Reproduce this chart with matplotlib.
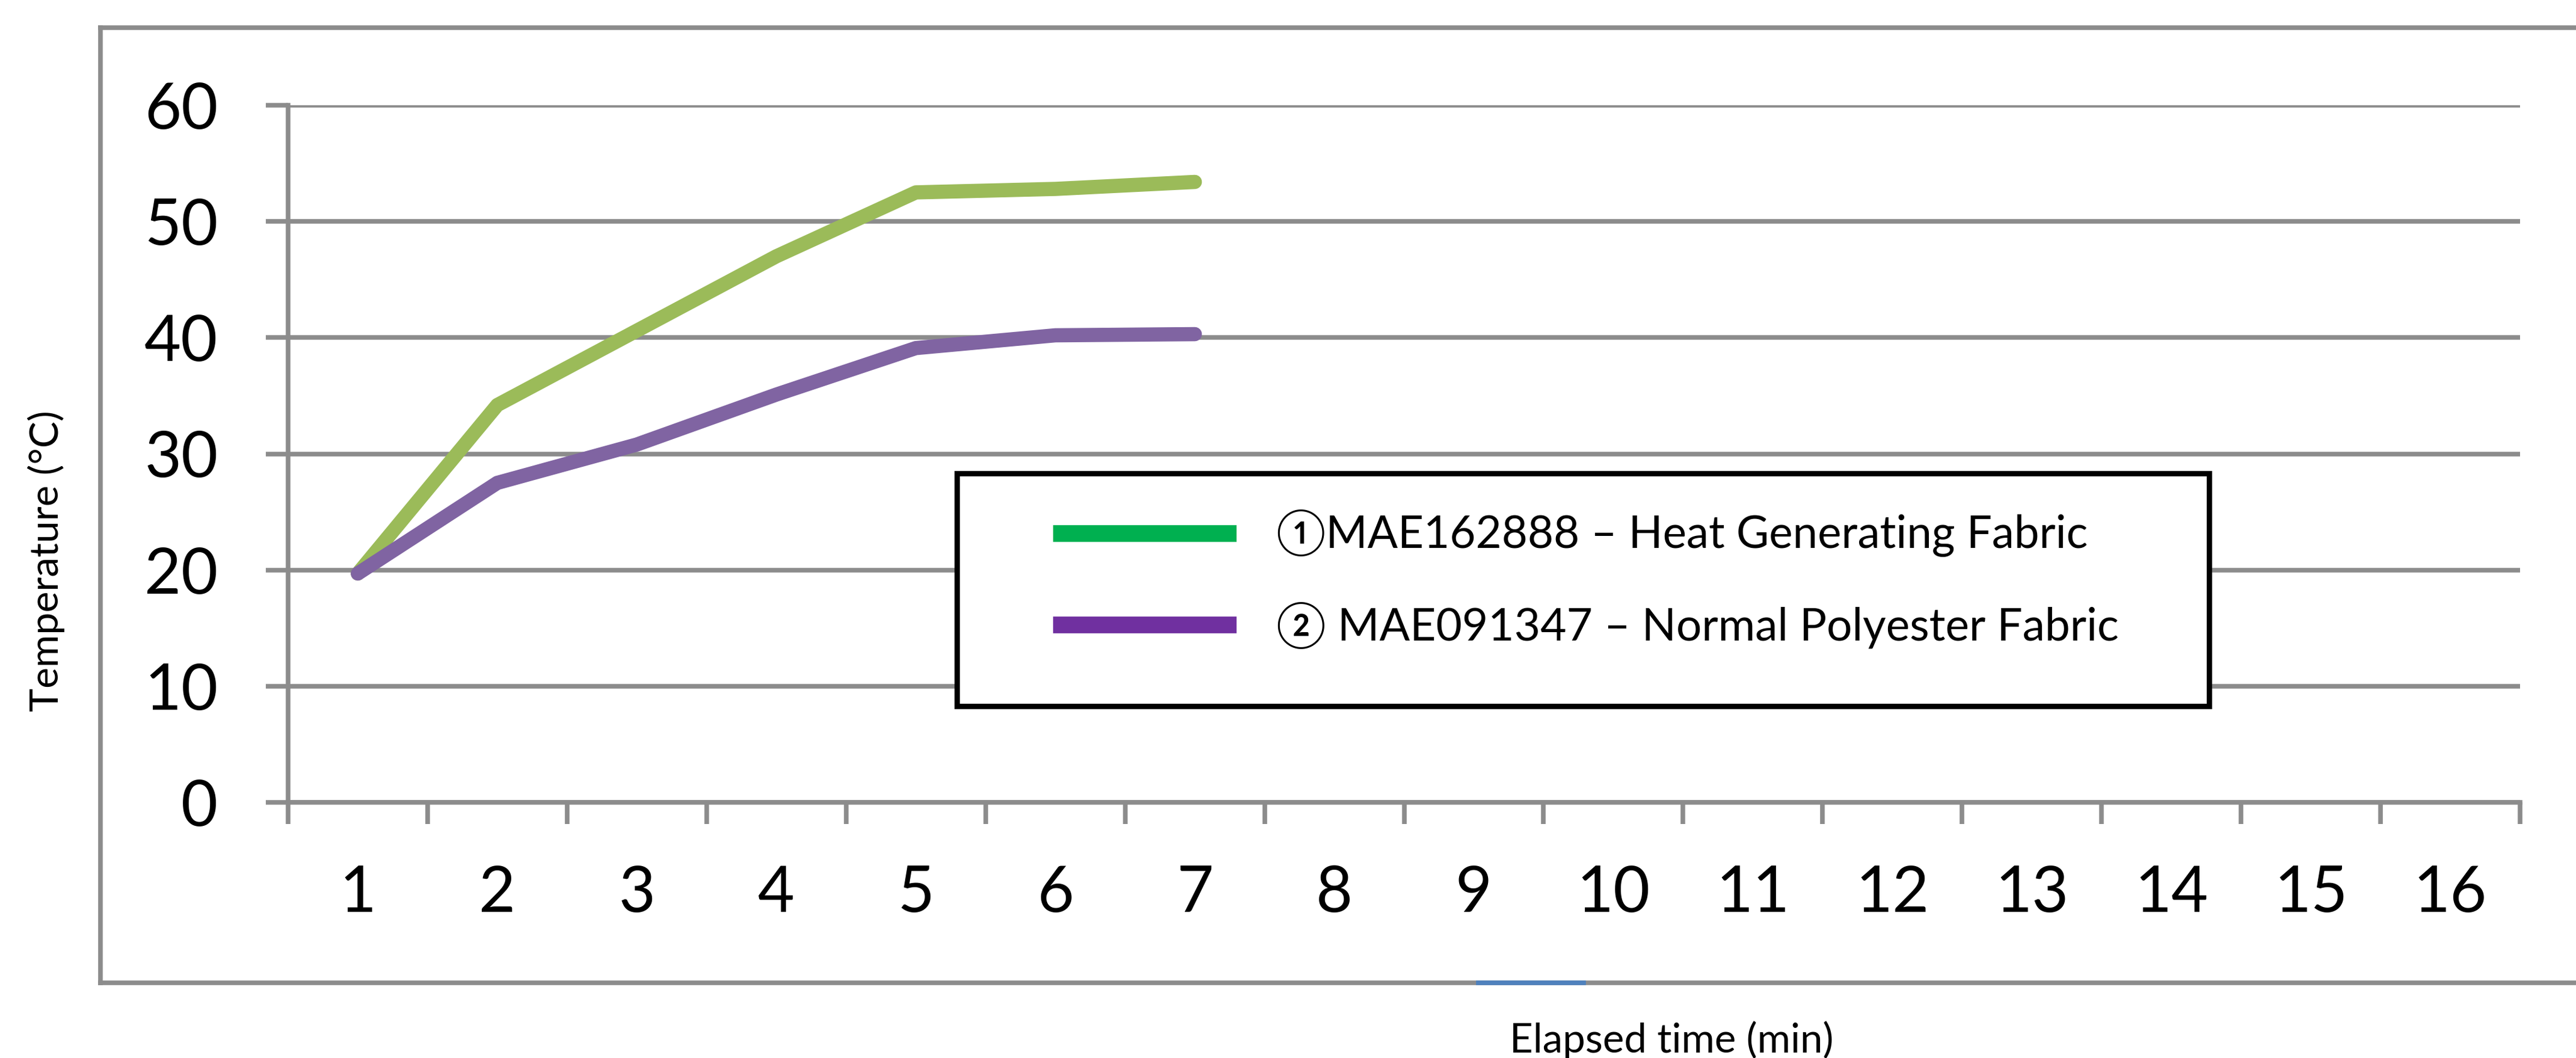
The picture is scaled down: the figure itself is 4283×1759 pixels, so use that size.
import matplotlib
matplotlib.use("Agg")
import matplotlib.pyplot as plt
from matplotlib.lines import Line2D
from matplotlib.patches import Rectangle
import numpy as np

# donnees
categories = list(range(1, 17))
temps = [1, 2, 3, 4, 5, 6, 7]
tissu_chauffant = [19.7, 34.2, 40.6, 47.0, 52.5, 52.8, 53.4]
tissu_polyester = [19.7, 27.5, 30.8, 35.1, 39.1, 40.2, 40.3]
libelles = ["\u2460MAE162888 \u2013 Heat Generating Fabric",
            "\u2461 MAE091347 \u2013 Normal Polyester Fabric"]
titre_y = "Temperature (\u00b0C)"
titre_x = "Elapsed time (min)"

W, H = 4283, 1759
DPI = 100
plt.rcParams['font.family'] = ['Lato', 'Noto Sans CJK JP', 'DejaVu Sans']

gris = '#8c8c8c'

fig = plt.figure(figsize=(W / DPI, H / DPI), dpi=DPI)
renderer = fig.canvas.get_renderer()

def fx(px):
    return px / W

def fy(py):
    return 1 - py / H

#On cherche la taille de police qui donne la largeur voulue (en pixels)
def taille(txt, largeur):
    t = fig.text(0, 0, txt, fontsize=50)
    w = t.get_window_extent(renderer).width
    t.remove()
    return 50 * largeur / w

# cadre exterieur (le bord droit sort de l'image)
for xs, ys in [((167, W), (46, 46)), ((167, W), (1634, 1634)), ((167, 167), (46, 1634))]:
    fig.add_artist(Line2D([fx(x) for x in xs], [fy(y) for y in ys], color=gris, lw=5.5))
fig.add_artist(Line2D([fx(2458), fx(2633)], [fy(1634), fy(1634)], color='#4f81bd', lw=5.5))

ax = fig.add_axes([fx(479), fy(1334), fx(4190) - fx(479), fy(175) - fy(1334)])

ax.plot(temps, tissu_chauffant, color='#9bbb59', lw=17, solid_capstyle='round',
        solid_joinstyle='round', zorder=3)
ax.plot(temps, tissu_polyester, color='#8064a2', lw=17, solid_capstyle='round',
        solid_joinstyle='round', zorder=3)

ax.set_xlim(0.5, 16.5)
ax.set_ylim(0, 60)

# axe des ordonnees
ax.set_yticks(np.arange(0, 61, 10))
ax.tick_params(axis='y', which='major', length=27, width=5.5, color=gris,
               labelsize=76, pad=57)
ax.yaxis.grid(True, color=gris, lw=5.5)
ax.set_axisbelow(True)

# axe des abscisses : traits entre categories, etiquettes au centre
ax.set_xticks(np.arange(0.5, 17, 1))
ax.set_xticklabels([])
ax.set_xticks(categories, minor=True)
ax.set_xticklabels([str(c) for c in categories], minor=True)
ax.tick_params(axis='x', which='major', length=26, width=5.5, color=gris)
ax.tick_params(axis='x', which='minor', length=0, labelsize=76, pad=75)

for s in ['top', 'right']:
    ax.spines[s].set_visible(False)
for s in ['left', 'bottom']:
    ax.spines[s].set_color(gris)
    ax.spines[s].set_linewidth(5.5)

# legende dessinee a la main
fig.add_artist(Rectangle((fx(1591), fy(1174)), fx(3673) - fx(1591), fy(787) - fy(1174),
                         fill=True, facecolor='white', edgecolor='black', lw=6.5, zorder=5))
for yl, yb, c, txt, larg in [(887, 911, '#00b050', libelles[0], 1349),
                             (1039, 1065, '#7030a0', libelles[1], 1402)]:
    fig.add_artist(Line2D([fx(1751), fx(2056)], [fy(yl), fy(yl)], color=c, lw=20,
                          solid_capstyle='butt', zorder=6))
    fig.text(fx(2122), fy(yb), txt, fontsize=taille(txt, larg), va='baseline',
             ha='left', zorder=6)

fig.text(fx(97), fy(933), titre_y, rotation=90, rotation_mode='anchor',
         fontsize=taille(titre_y, 501), ha='center', va='baseline')
fig.text(fx(2510), fy(1750), titre_x, fontsize=taille(titre_x, 538),
         ha='left', va='baseline')

fig.savefig("out.png", dpi=DPI, facecolor='white')
